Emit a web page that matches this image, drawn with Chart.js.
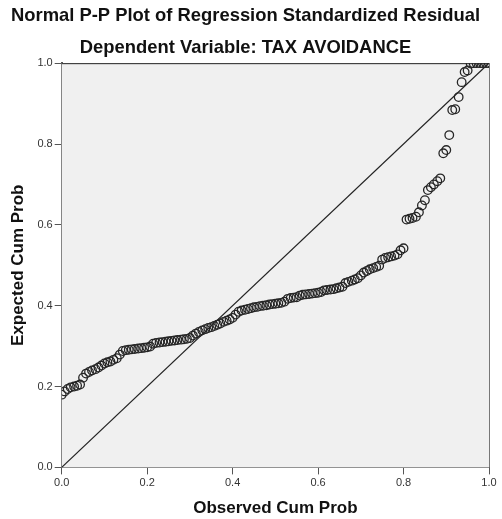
<!DOCTYPE html>
<html>
<head>
<meta charset="utf-8">
<script src="https://cdn.jsdelivr.net/npm/chart.js@4.4.0/dist/chart.umd.min.js"></script>
<style>
  html,body{margin:0;padding:0;background:#fff;}
  #wrap{width:502px;height:519px;position:relative;}
</style>
</head>
<body>
<div id="wrap"><canvas id="pp"></canvas></div>
<script>
// observed cumulative probability (x) and expected cumulative probability (y)
const observed=[
  0.000,0.007,0.014,0.021,0.029,0.036,0.043,0.050,0.057,0.064,
  0.071,0.079,0.086,0.093,0.100,0.107,0.114,0.121,0.129,0.136,
  0.143,0.150,0.157,0.164,0.171,0.179,0.186,0.193,0.200,0.207,
  0.214,0.221,0.229,0.236,0.243,0.250,0.257,0.264,0.271,0.279,
  0.286,0.293,0.300,0.307,0.314,0.321,0.329,0.336,0.343,0.350,
  0.357,0.364,0.371,0.379,0.386,0.393,0.400,0.407,0.414,0.421,
  0.429,0.436,0.443,0.450,0.457,0.464,0.471,0.479,0.486,0.493,
  0.500,0.507,0.514,0.521,0.529,0.536,0.543,0.550,0.557,0.564,
  0.571,0.579,0.586,0.593,0.600,0.607,0.614,0.621,0.629,0.636,
  0.643,0.650,0.657,0.664,0.671,0.679,0.686,0.693,0.700,0.707,
  0.714,0.721,0.729,0.736,0.743,0.750,0.757,0.764,0.771,0.779,
  0.786,0.793,0.800,0.807,0.814,0.821,0.829,0.836,0.843,0.850,
  0.857,0.864,0.871,0.879,0.886,0.893,0.900,0.907,0.914,0.921,
  0.929,0.936,0.943,0.950,0.957,0.964,0.971,0.979,0.986,0.993,
  1.000
];
const expected=[
  0.180,0.188,0.194,0.198,0.200,0.202,0.205,0.222,0.232,0.236,
  0.240,0.243,0.247,0.252,0.257,0.260,0.262,0.266,0.270,0.279,
  0.288,0.290,0.291,0.292,0.293,0.294,0.295,0.296,0.297,0.299,
  0.306,0.308,0.309,0.310,0.311,0.312,0.313,0.314,0.315,0.316,
  0.317,0.318,0.320,0.326,0.331,0.335,0.339,0.342,0.345,0.347,
  0.350,0.353,0.356,0.360,0.363,0.366,0.370,0.378,0.385,0.388,
  0.390,0.392,0.394,0.396,0.397,0.399,0.400,0.401,0.403,0.404,
  0.405,0.406,0.407,0.410,0.417,0.419,0.420,0.421,0.425,0.427,
  0.428,0.429,0.430,0.431,0.432,0.434,0.438,0.439,0.440,0.441,
  0.443,0.445,0.447,0.456,0.459,0.462,0.465,0.468,0.475,0.482,
  0.486,0.490,0.493,0.496,0.499,0.514,0.518,0.520,0.522,0.524,
  0.527,0.537,0.542,0.613,0.615,0.617,0.620,0.631,0.648,0.661,
  0.686,0.693,0.700,0.708,0.715,0.777,0.785,0.822,0.884,0.886,
  0.916,0.953,0.978,0.982,0.999,1.000,1.000,1.000,1.000,1.000,
  1.000
];
const refLine=[{x:0,y:0},{x:1,y:1}];
const tickValues=[0,0.2,0.4,0.6,0.8,1.0];

const FONT="'Liberation Sans', Arial, sans-serif";

// gray plot background + thin top/right frame
const plotFrame={
  id:'plotFrame',
  beforeDatasetsDraw(chart){
    const {ctx,chartArea:a}=chart;
    ctx.save();
    ctx.fillStyle='#f0f0f0';
    ctx.fillRect(a.left,a.top,a.right-a.left,a.bottom-a.top);
    ctx.restore();
  },
  afterDatasetsDraw(chart){
    const {ctx,chartArea:a}=chart;
    ctx.save();
    ctx.strokeStyle='#222';ctx.lineWidth=1;
    ctx.beginPath();
    ctx.moveTo(a.left,a.top+0.5);ctx.lineTo(a.right+0.5,a.top+0.5);
    ctx.stroke();
    ctx.strokeStyle='#777';
    ctx.beginPath();
    ctx.moveTo(a.right+0.5,a.top);ctx.lineTo(a.right+0.5,a.bottom);
    ctx.stroke();
    ctx.restore();
  }
};

const axis=(title,tpad)=>({
  type:'linear',min:0,max:1,
  afterBuildTicks:(s)=>{s.ticks=tickValues.map(v=>({value:v}));},
  ticks:{color:'#333',font:{family:FONT,size:11},padding:2,callback:v=>v.toFixed(1)},
  grid:{drawOnChartArea:false,drawTicks:true,tickLength:7,color:'#555',lineWidth:1},
  border:{display:true,color:'#555',width:2},
  title:{display:true,text:title,color:'#111',font:{family:FONT,size:17,weight:'bold'},padding:tpad}
});

new Chart(document.getElementById('pp'),{
  type:'scatter',
  data:{datasets:[
    {label:'Residuals',data:observed.map((x,i)=>({x,y:expected[i]})),
     pointRadius:4.3,pointHoverRadius:4.3,pointBorderWidth:1.3,
     pointBorderColor:'#262626',pointBackgroundColor:'rgba(0,0,0,0)'},
    {label:'Reference',type:'line',data:refLine,borderColor:'#222',borderWidth:1.3,pointRadius:0,fill:false}
  ]},
  options:{
    responsive:true,maintainAspectRatio:false,animation:false,
    layout:{padding:{left:2,right:13,top:0,bottom:0}},
    plugins:{
      legend:{display:false},tooltip:{enabled:false},
      title:{display:true,text:'Normal P-P Plot of Regression Standardized Residual',
        color:'#111',font:{family:FONT,size:18.4,weight:'bold'},padding:{top:5,bottom:10}},
      subtitle:{display:true,text:'Dependent Variable: TAX AVOIDANCE',
        color:'#111',font:{family:FONT,size:18.4,weight:'bold'},padding:{top:0,bottom:4}}
    },
    scales:{
      x:axis('Observed Cum Prob',{top:7,bottom:0}),
      y:axis('Expected Cum Prob',{top:6,bottom:7})
    }
  },
  plugins:[plotFrame]
});
</script>
</body>
</html>
